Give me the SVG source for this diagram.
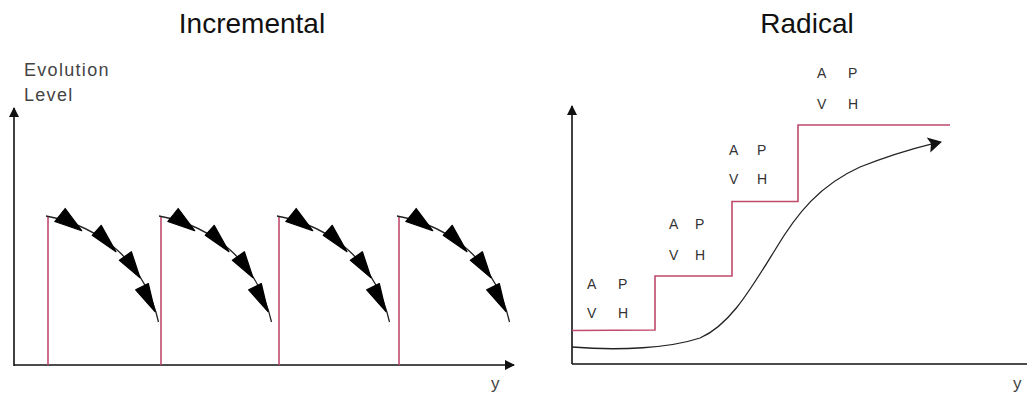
<svg xmlns="http://www.w3.org/2000/svg" width="1027" height="394" viewBox="0 0 1027 394">
<style>
.title{font-family:"Liberation Sans",Arial,sans-serif;font-size:28px;fill:#111;text-anchor:middle}
.lbl{font-family:"Liberation Sans",Arial,sans-serif;font-size:14px;fill:#333}
.axlbl{font-family:"Liberation Sans",Arial,sans-serif;font-size:18px;fill:#444;letter-spacing:1.3px}
.ylbl{font-family:"Liberation Sans",Arial,sans-serif;font-size:17px;fill:#444}
.axis{stroke:#111;stroke-width:1.6;fill:none}
.red{stroke:#c04a6c;stroke-width:1.6;fill:none}
.curve{stroke:#222;stroke-width:1.3;fill:none}
.tri{fill:#000;stroke:#000;stroke-width:1.2;stroke-linejoin:round}
</style>
<defs>
<marker id="ah" viewBox="0 0 10 10" refX="9" refY="5" markerWidth="6.5" markerHeight="6.5" markerUnits="strokeWidth" orient="auto">
<path d="M0,0 L10,5 L0,10 z" fill="#111"/>
</marker>
<g id="seg">
<line class="red" x1="48" y1="217" x2="48" y2="365"/>
<path class="curve" d="M46,216 C100,226 145,262 158.5,322"/>
<polygon class="tri" points="65.2,208.5 54.8,221.5 81.7,230.7"/>
<polygon class="tri" points="101.2,225.3 92.2,235.3 116,251.7"/>
<polygon class="tri" points="131.4,251.7 119.4,260.3 140,277.7"/>
<polygon class="tri" points="148.3,283.5 135.7,289.9 155,311.7"/>
</g>
</defs>
<text class="title" x="252" y="33">Incremental</text>
<text class="title" x="807" y="33">Radical</text>
<g id="incremental">
<text class="axlbl" x="24" y="76">Evolution</text>
<text class="axlbl" x="24" y="101">Level</text>
<g id="connectors-left">
<line class="axis" x1="14" y1="366" x2="14" y2="108" marker-end="url(#ah)"/>
<line class="axis" x1="14" y1="365" x2="514" y2="365" marker-end="url(#ah)"/>
</g>
<g id="step1"><use href="#seg"/></g>
<g id="step2"><use href="#seg" transform="translate(113,0)"/></g>
<g id="step3"><use href="#seg" transform="translate(231,0)"/></g>
<g id="step4"><use href="#seg" transform="translate(351,0)"/></g>
<text class="ylbl" x="491" y="389">y</text>
</g>
<g id="radical">
<g id="connectors-right">
<line class="axis" x1="572" y1="364" x2="572" y2="106" marker-end="url(#ah)"/>
<line class="axis" x1="572" y1="364" x2="1027" y2="364"/>
<path class="red" d="M572,330.5 L655,330 L655,276 L732,276 L732,201.5 L798,201.5 L798,125 L950,125"/>
<path class="curve" d="M572,347 C620,351 670,348 700,338 C730,325 750,290 775,250 C797,213 820,185 860,167 C890,155 915,148 932,143.8"/>
<polygon fill="#111" points="942,141.7 926.7,137.5 931,143.6 930.3,152.5"/>
</g>
<g id="apvh1">
<text class="lbl" x="587" y="288.5">A</text><text class="lbl" x="618" y="288.5">P</text>
<text class="lbl" x="587" y="317.5">V</text><text class="lbl" x="618" y="317.5">H</text>
</g>
<g id="apvh2">
<text class="lbl" x="669" y="229">A</text><text class="lbl" x="695" y="229">P</text>
<text class="lbl" x="669" y="259.5">V</text><text class="lbl" x="695" y="259.5">H</text>
</g>
<g id="apvh3">
<text class="lbl" x="729" y="155">A</text><text class="lbl" x="757" y="155">P</text>
<text class="lbl" x="729" y="183.5">V</text><text class="lbl" x="757" y="183.5">H</text>
</g>
<g id="apvh4">
<text class="lbl" x="817" y="77.5">A</text><text class="lbl" x="848" y="77.5">P</text>
<text class="lbl" x="817" y="108.5">V</text><text class="lbl" x="848" y="108.5">H</text>
</g>
<text class="ylbl" x="1013" y="389">y</text>
</g>
</svg>
